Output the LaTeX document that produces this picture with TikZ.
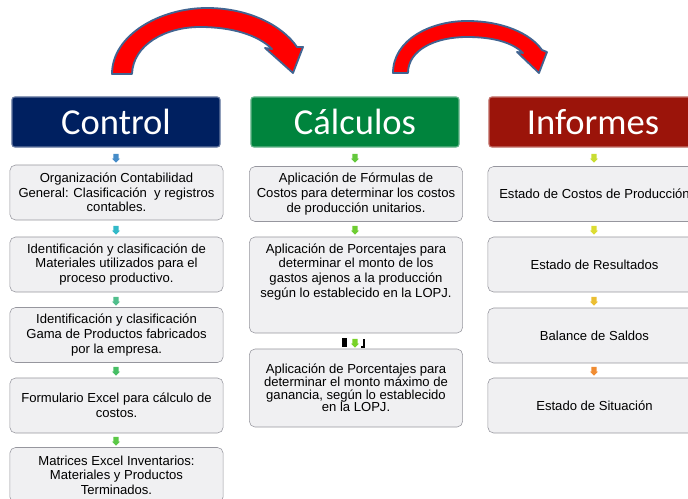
\documentclass[tikz,border=0pt]{standalone}
\usepackage{fontspec}
\setmainfont{Liberation Sans}
\newfontfamily\hdrfont{Carlito}
\usetikzlibrary{shapes.arrows}
\definecolor{ctrlblue}{RGB}{0,32,96}
\definecolor{calcgreen}{RGB}{0,132,61}
\definecolor{infred}{RGB}{155,20,10}
\definecolor{boxfill}{RGB}{240,240,242}
\definecolor{boxline}{RGB}{150,150,158}
\definecolor{arrline}{RGB}{65,100,145}
\definecolor{tkA}{RGB}{70,140,200}
\definecolor{tkB}{RGB}{50,185,200}
\definecolor{tkC}{RGB}{80,190,140}
\definecolor{tkD}{RGB}{70,190,100}
\definecolor{tkE}{RGB}{90,200,70}
\definecolor{tkF}{RGB}{100,200,60}
\definecolor{tkG}{RGB}{110,205,50}
\definecolor{tkH}{RGB}{120,210,40}
\definecolor{tkI}{RGB}{200,220,50}
\definecolor{tkJ}{RGB}{220,220,50}
\definecolor{tkK}{RGB}{235,190,50}
\definecolor{tkL}{RGB}{240,140,50}
\newcommand\tightlines{\fontsize{9.3}{9.1}\selectfont\lineskiplimit=-10pt\relax}

\begin{document}
\begin{tikzpicture}[
    x=0.025cm, y=-0.025cm,
    header/.style={rectangle, rounded corners=2pt, draw=#1!60!white, line width=0.8pt, fill=#1, text=white, minimum width=5.2cm, minimum height=1.25cm, font=\hdrfont\fontsize{26}{30}\selectfont},
    entry/.style={rectangle, rounded corners=4pt, draw=boxline, fill=boxfill, minimum width=5.33cm, minimum height=1.375cm, align=center, inner sep=2pt, font=\fontsize{9.3}{10.4}\selectfont},
    downtick/.style={single arrow, shape border rotate=270, fill=#1, minimum height=0.22cm, minimum width=0.21cm, single arrow head extend=1.1pt, inner sep=1.6pt},
    bigarrow/.style={fill=red, draw=arrline, line width=1.3pt, line join=round}
]
    \useasboundingbox (0,0) rectangle (688,498);
    \clip (0,0) rectangle (688,498);

    % Curved arrows
    \draw[bigarrow] (112,74) .. controls (112,35) and (160,8) .. (207,8)
        .. controls (248,8) and (282,25) .. (297,47) -- (303,47) -- (293,73) -- (265,48) -- (272,49)
        .. controls (258,35) and (232,27) .. (200,27) .. controls (165,27) and (133,45) .. (132,74) -- cycle;
    \draw[bigarrow] (393,73) .. controls (393,40) and (430,21) .. (467,21)
        .. controls (502,21) and (530,33) .. (542,50) -- (547,52) -- (539,73) -- (517,52) -- (523,53)
        .. controls (512,42) and (492,37) .. (467,37) .. controls (435,37) and (408,50) .. (408,73) -- cycle;

    % Headers
    \node[header=ctrlblue] (control) at (116,122) {Control};
    \node[header=calcgreen] (calculos) at (355,122) {Cálculos};
    \node[header=infred] (informes) at (593,122) {Informes};

    % Control column
    \node[entry] (org) at (116.5,192.5) {Organización Contabilidad\\General: Clasificación~ y registros\\contables.};
    \node[entry] (mat) at (116.5,264.5) {Identificación y clasificación de\\Materiales utilizados para el\\proceso productivo.};
    \node[entry] (gama) at (116.5,335) {Identificación y clasificación\\Gama de Productos fabricados\\por la empresa.};
    \node[entry] (form) at (116.5,405.5) {Formulario Excel para cálculo de\\costos.};
    \node[entry] (matr) at (116.5,475) {Matrices Excel Inventarios:\\Materiales y Productos\\Terminados.};

    % Calculos column
    \node[entry] (formulas) at (356,194) {Aplicación de Fórmulas de\\Costos para determinar los costos\\de producción unitarios.};
    \node[entry, minimum height=2.4cm] (gastos) at (356,285) {Aplicación de Porcentajes para\\determinar el monto de los\\gastos ajenos a la producción\\según lo establecido en la LOPJ.\\ \mbox{}\\ \mbox{}};
    \node[entry, minimum height=1.95cm, font=\tightlines] (ganancia) at (356,388) {Aplicación de Porcentajes para\\determinar el monto máximo de\\ganancia, según lo establecido\\en la LOPJ.};

    % Informes column
    \node[entry] (costos) at (594.5,194) {Estado de Costos de Producción};
    \node[entry] (result) at (594.5,264.5) {Estado de Resultados};
    \node[entry] (balance) at (594.5,335.5) {Balance de Saldos};
    \node[entry] (situacion) at (594.5,405.5) {Estado de Situación};

    % Small down arrows
    \node[downtick=tkA] (dc1) at (116,157) {};
    \node[downtick=tkB] (dc2) at (116,229) {};
    \node[downtick=tkC] (dc3) at (116,300) {};
    \node[downtick=tkD] (dc4) at (116,370) {};
    \node[downtick=tkE] (dc5) at (116,440) {};
    \node[downtick=tkF] (dk1) at (355,157) {};
    \node[downtick=tkG] (dk2) at (355,229) {};
    \node[downtick=tkH] (dk3) at (355,342) {};
    \node[downtick=tkI] (di1) at (594,157) {};
    \node[downtick=tkJ] (di2) at (594,229) {};
    \node[downtick=tkK] (di3) at (594,300) {};
    \node[downtick=tkL] (di4) at (594,370) {};

    % Stray marks
    \fill (342,338) rectangle (347,347);
    \draw[line width=0.8pt] (361,347) -- (364,347) -- (364,339);

\end{tikzpicture}
\end{document}
